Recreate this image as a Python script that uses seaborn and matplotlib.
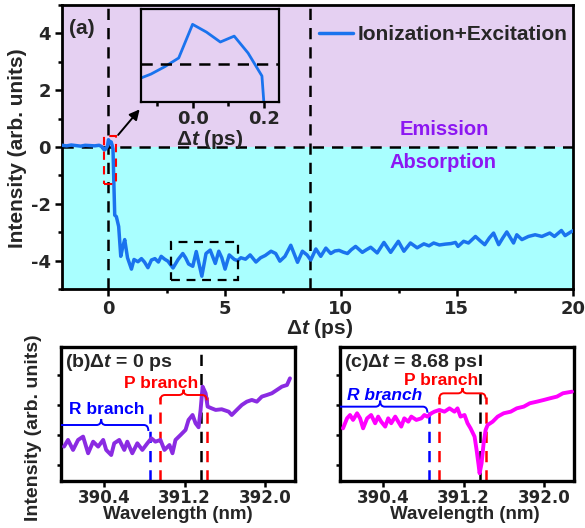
import numpy as np
import pandas as pd
import matplotlib
matplotlib.use("Agg")
import matplotlib.pyplot as plt
import seaborn as sns
from matplotlib.path import Path
from matplotlib.patches import PathPatch, Rectangle
from matplotlib.ticker import MultipleLocator, FixedLocator, NullFormatter
from matplotlib.font_manager import FontProperties

# ---------------- data ----------------
delay_ps = [-2.0, -1.8, -1.6, -1.4, -1.2, -1.0, -0.8, -0.6, -0.4, -0.3, -0.195, -0.156, -0.117, -0.078,
            -0.039, 0.0, 0.039, 0.078, 0.117, 0.156, 0.195, 0.234, 0.27, 0.34, 0.44, 0.53, 0.62, 0.7, 0.82,
            0.99, 1.1, 1.27, 1.42, 1.55, 1.7, 1.85, 2.0, 2.15, 2.27, 2.42, 2.56, 2.78, 3.0, 3.2, 3.32, 3.45,
            3.63, 3.78, 4.02, 4.2, 4.38, 4.6, 4.75, 4.88, 5.02, 5.2, 5.42, 5.56, 5.7, 5.9, 6.1, 6.35, 6.55,
            6.75, 7.0, 7.2, 7.38, 7.6, 7.85, 8.14, 8.35, 8.55, 8.71, 8.93, 9.14, 9.36, 9.57, 9.75, 9.93, 10.1,
            10.29, 10.45, 10.64, 10.93, 11.1, 11.29, 11.57, 11.86, 12.15, 12.48, 12.72, 13.0, 13.29, 13.58,
            13.8, 14.0, 14.25, 14.5, 14.75, 14.94, 15.05, 15.29, 15.5, 15.8, 16.0, 16.2, 16.4, 16.58, 16.8,
            16.98, 17.15, 17.44, 17.58, 17.8, 18.08, 18.37, 18.66, 19.0, 19.2, 19.5, 19.66, 19.95, 20.0]
intensity_main = [0.06, 0.04, 0.07, 0.05, 0.03, 0.06, 0.05, 0.04, 0.06, 0.02, -0.09, -0.10, -0.065, -0.017,
                  0.039, 0.256, 0.206, 0.142, 0.18, 0.071, -0.077, -1.3, -2.4, -2.45, -2.8, -3.85, -3.5, -3.26,
                  -3.9, -4.3, -3.96, -4.04, -3.93, -4.05, -4.25, -3.98, -3.93, -4.05, -3.85, -3.95, -4.02,
                  -4.26, -3.96, -3.75, -3.9, -4.12, -4.2, -3.68, -4.55, -3.75, -3.63, -4.1, -3.67, -3.9, -4.3,
                  -3.8, -3.96, -4.0, -3.9, -3.95, -3.8, -4.05, -3.9, -3.82, -3.67, -3.75, -4.02, -3.85, -3.46,
                  -4.06, -3.67, -3.8, -3.98, -3.59, -3.85, -3.56, -3.75, -3.66, -3.64, -3.7, -3.75, -3.62,
                  -3.5, -3.71, -3.62, -3.53, -3.73, -3.36, -3.71, -3.32, -3.67, -3.38, -3.55, -3.41, -3.48,
                  -3.38, -3.45, -3.42, -3.40, -3.36, -3.5, -3.32, -3.38, -3.15, -3.3, -3.44, -3.2, -3.03,
                  -3.44, -3.2, -2.99, -3.38, -3.09, -3.26, -3.15, -3.09, -3.15, -3.03, -3.15, -2.94, -3.12,
                  -2.97, -2.95]
marked_delays = [0.0, 8.68]

wl_b = [390.00, 390.04, 390.09, 390.14, 390.19, 390.24, 390.29, 390.34, 390.39, 390.42, 390.47, 390.50,
        390.55, 390.60, 390.63, 390.68, 390.73, 390.78, 390.83, 390.87, 390.91, 390.96, 391.00, 391.05,
        391.08, 391.11, 391.16, 391.21, 391.24, 391.28, 391.31, 391.34, 391.36, 391.38, 391.41, 391.43,
        391.47, 391.51, 391.57, 391.64, 391.67, 391.72, 391.77, 391.82, 391.87, 391.92, 391.97, 392.02,
        392.07, 392.12, 392.17, 392.22, 392.25]
int_b = [0.258, 0.308, 0.233, 0.308, 0.333, 0.208, 0.295, 0.258, 0.308, 0.233, 0.195, 0.283, 0.308, 0.233,
         0.295, 0.208, 0.283, 0.233, 0.283, 0.32, 0.295, 0.308, 0.233, 0.27, 0.208, 0.308, 0.345, 0.383,
         0.458, 0.495, 0.433, 0.403, 0.533, 0.708, 0.658, 0.558, 0.545, 0.533, 0.538, 0.52, 0.495, 0.533,
         0.57, 0.595, 0.608, 0.595, 0.633, 0.645, 0.658, 0.683, 0.708, 0.72, 0.77]

wl_c = [390.00, 390.04, 390.07, 390.10, 390.14, 390.17, 390.20, 390.24, 390.28, 390.32, 390.35, 390.38,
        390.42, 390.45, 390.48, 390.52, 390.55, 390.58, 390.61, 390.65, 390.68, 390.73, 390.78, 390.81,
        390.84, 390.88, 390.91, 390.96, 391.01, 391.06, 391.11, 391.14, 391.17, 391.21, 391.24, 391.27,
        391.31, 391.33, 391.35, 391.36, 391.38, 391.40, 391.42, 391.44, 391.49, 391.54, 391.60, 391.67,
        391.73, 391.80, 391.86, 391.93, 392.00, 392.06, 392.13, 392.19, 392.28]
int_c = [0.395, 0.47, 0.495, 0.458, 0.508, 0.47, 0.395, 0.47, 0.495, 0.433, 0.483, 0.445, 0.408, 0.47,
         0.433, 0.483, 0.445, 0.408, 0.47, 0.445, 0.483, 0.458, 0.47, 0.495, 0.483, 0.508, 0.52, 0.533,
         0.52, 0.545, 0.52, 0.545, 0.483, 0.495, 0.433, 0.395, 0.333, 0.233, 0.12, 0.058, 0.133, 0.283,
         0.383, 0.42, 0.445, 0.483, 0.508, 0.52, 0.545, 0.558, 0.583, 0.595, 0.608, 0.62, 0.633, 0.658, 0.67]

line_center_nm = 391.36
R_branch_edge_nm = 390.86
P_branch_nm = [390.96, 391.42]
main_ticks = [0, 5, 10, 15, 20]
wl_ticks = [390.4, 391.2, 392.0]

# ---------------- style ----------------
sns.set_style("ticks")
plt.rcParams["font.family"] = ["Liberation Sans", "DejaVu Sans"]
plt.rcParams["font.weight"] = "bold"
plt.rcParams["axes.unicode_minus"] = False
plt.rcParams["mathtext.fontset"] = "custom"
plt.rcParams["mathtext.rm"] = "Liberation Sans:bold"
plt.rcParams["mathtext.bf"] = "Liberation Sans:bold"
plt.rcParams["mathtext.it"] = "Liberation Sans:italic:bold"

BLUE = "#1A73EE"
LAV = "#E5D0F2"
CYAN = "#A9FFFF"
VIOLET = "#8C17F2"
PURPLE = "#8A2BE2"
MAGENTA = "#FF00FF"
TICK_FP = FontProperties(family="DejaVu Sans", weight="bold", size=13)
TICK_FP_SMALL = FontProperties(family="DejaVu Sans", weight="bold", size=12)

fig = plt.figure(figsize=(5.85, 5.28), dpi=100)
W, H = 585, 528


def axes_px(l, t, r, b):
    return fig.add_axes([l / W, 1 - b / H, (r - l) / W, (b - t) / H])


def style_ticks(ax, lw=2.0, fp=TICK_FP):
    for s in ax.spines.values():
        s.set_linewidth(lw)
        s.set_color("black")
    ax.tick_params(which="both", direction="out", width=1.8, color="black", top=False, right=False)
    ax.tick_params(which="major", length=5, pad=3)
    ax.tick_params(which="minor", length=3)
    for lab in ax.get_xticklabels() + ax.get_yticklabels():
        lab.set_fontproperties(fp)


DASH = dict(color="black", lw=1.8, ls=(0, (4.5, 3.2)))

# ---------------- main panel (a) ----------------
ax = axes_px(62, 5, 573, 289)
ax.axhspan(0, 5, color=LAV, zorder=0, lw=0)
ax.axhspan(-5, 0, color=CYAN, zorder=0, lw=0)
df_main = pd.DataFrame({"delay": delay_ps, "I": intensity_main})
sns.lineplot(data=df_main, x="delay", y="I", ax=ax, color=BLUE, lw=2.5, estimator=None,
             label="Ionization+Excitation", zorder=3)
ax.axhline(0, **DASH, zorder=2)
for d in marked_delays:
    ax.axvline(d, **DASH, zorder=2)
ax.set_xlim(-2, 20)
ax.set_ylim(-5, 5)
ax.set_xticks(main_ticks)
ax.xaxis.set_minor_locator(MultipleLocator(2.5))
ax.set_yticks([-4, -2, 0, 2, 4])
ax.yaxis.set_minor_locator(MultipleLocator(1))
style_ticks(ax)
ax.set_xlabel(r"$\Delta t$ (ps)", fontsize=15, fontweight="bold")
ax.xaxis.set_label_coords((320 - 62) / 511, -(317 - 289) / 284)
ax.set_ylabel("Intensity (arb. units)", fontsize=15, fontweight="bold")
ax.yaxis.set_label_coords(-(62 - 27) / 511, (289 - 148) / 284)
ax.text(-1.72, 4.17, "(a)", fontsize=15, fontweight="bold", va="center", ha="left")
ax.text(14.45, 0.62, "Emission", color=VIOLET, fontsize=14.5, fontweight="bold", ha="center", va="center")
ax.text(14.4, -0.56, "Absorption", color=VIOLET, fontsize=14.5, fontweight="bold", ha="center", va="center")
leg = ax.legend(loc="center left", bbox_to_anchor=((319 - 62) / 511, (289 - 35) / 284), frameon=False,
                fontsize=15, handlelength=1.65, handletextpad=0.2, borderpad=0, borderaxespad=0)
for t in leg.get_texts():
    t.set_fontweight("bold")
# zoom boxes
ax.add_patch(Rectangle((-0.2, -1.3), 0.54, 1.7, fill=False, ec="red", lw=1.5, ls=(0, (4, 3)), zorder=4))
ax.add_patch(Rectangle((2.7, -4.69), 2.87, 1.35, fill=False, ec="black", lw=1.6, ls=(0, (4, 3)), zorder=4))
ax.annotate("", xy=(1.42, 1.4), xytext=(0.34, 0.35),
            arrowprops=dict(arrowstyle="-|>,head_length=0.6,head_width=0.3", color="black", lw=1.4))

# inset
axi = axes_px(141, 9, 279, 102)
axi.set_facecolor(LAV)
sns.lineplot(data=df_main, x="delay", y="I", ax=axi, color=BLUE, lw=2.0, estimator=None, legend=False)
axi.axhline(0, **DASH)
axi.set_xlim(-0.145, 0.243)
axi.set_ylim(-0.245, 0.355)
axi.set_xticks([0.0, 0.2])
axi.set_xticklabels(["0.0", "0.2"])
axi.xaxis.set_minor_locator(FixedLocator([-0.1, 0.1]))
axi.set_yticks([])
style_ticks(axi, lw=1.6)
axi.tick_params(which="major", length=4, pad=2)
axi.set_xlabel(r"$\Delta t$ (ps)", fontsize=15, fontweight="bold", labelpad=0)
axi.set_ylabel("")

# ---------------- lower panels ----------------
def brace(axx, x0, x1, y, h, color, d=0.045, lw=1.4):
    xc = (x0 + x1) / 2
    verts = [(x0, y - h), (x0, y), (x0 + d, y), (xc - d, y), (xc, y), (xc, y + h), (xc, y), (xc + d, y),
             (x1 - d, y), (x1, y), (x1, y - h)]
    codes = [Path.MOVETO, Path.CURVE3, Path.CURVE3, Path.LINETO, Path.CURVE3, Path.CURVE3, Path.CURVE3,
             Path.CURVE3, Path.LINETO, Path.CURVE3, Path.CURVE3]
    axx.add_patch(PathPatch(Path(verts, codes), fc="none", ec=color, lw=lw, zorder=4, clip_on=True))


def spectrum_panel(left, right, wl, inten, color, title, r_lvl, p_lvl, r_txt, p_txt, r_top, p_top,
                   r_italic):
    axx = axes_px(left, 347, right, 481)
    sns.lineplot(x=wl, y=inten, ax=axx, color=color, lw=2.8, estimator=None, zorder=3)
    axx.set_xlim(389.97, 392.3)
    axx.set_ylim(0, 1.005)
    axx.set_xticks(wl_ticks)
    axx.set_xticklabels([f"{v:.1f}" for v in wl_ticks])
    axx.set_yticks([0.12, 0.345, 0.57, 0.795])
    axx.yaxis.set_major_formatter(NullFormatter())
    style_ticks(axx, lw=2.4, fp=TICK_FP_SMALL)
    axx.tick_params(axis="x", length=4, pad=1.5)
    axx.tick_params(axis="y", length=3)
    axx.axvline(line_center_nm, **DASH, zorder=2)
    axx.plot([R_branch_edge_nm] * 2, [0, r_top], color="blue", lw=1.8, ls=(0, (4.5, 3.2)), zorder=2)
    for p in P_branch_nm:
        axx.plot([p] * 2, [0, p_top], color="red", lw=1.8, ls=(0, (4.5, 3.2)), zorder=2)
    brace(axx, 389.9, R_branch_edge_nm - 0.02, r_lvl, 0.045, "blue")
    brace(axx, P_branch_nm[0], P_branch_nm[1], p_lvl, 0.04, "red")
    axx.text(r_txt[0], r_txt[1], "R branch", color="blue", fontsize=12.5, fontweight="bold",
             style="italic" if r_italic else "normal", ha="center", va="center")
    axx.text(p_txt[0], p_txt[1], "P branch", color="red", fontsize=12.5, fontweight="bold",
             ha="center", va="center")
    axx.text(0.015, 0.885, title, transform=axx.transAxes, fontsize=14, fontweight="bold",
             ha="left", va="center")
    axx.set_xlabel("Wavelength (nm)", fontsize=13.5, fontweight="bold")
    axx.xaxis.set_label_coords(0.5, -(506 - 481) / 134)
    axx.set_ylabel("")
    return axx


axb = spectrum_panel(61, 295, wl_b, int_b, PURPLE, r"(b)$\Delta t$ = 0 ps", 0.42, 0.645,
                     (390.43, 0.535), (390.965, 0.735), 0.5, 0.63, False)
axc = spectrum_panel(340, 574, wl_c, int_c, MAGENTA, r"(c)$\Delta t$ = 8.68 ps", 0.5575, 0.6575,
                     (390.41, 0.645), (390.975, 0.755), 0.58, 0.63, True)
axc.xaxis.set_label_coords((465 - 340) / 234, -(506 - 481) / 134)

fig.text(34 / W, 1 - 428 / H, "Intensity (arb. units)", rotation=90, fontsize=14, fontweight="bold",
         ha="center", va="center")

fig.savefig("out.png", dpi=100)
